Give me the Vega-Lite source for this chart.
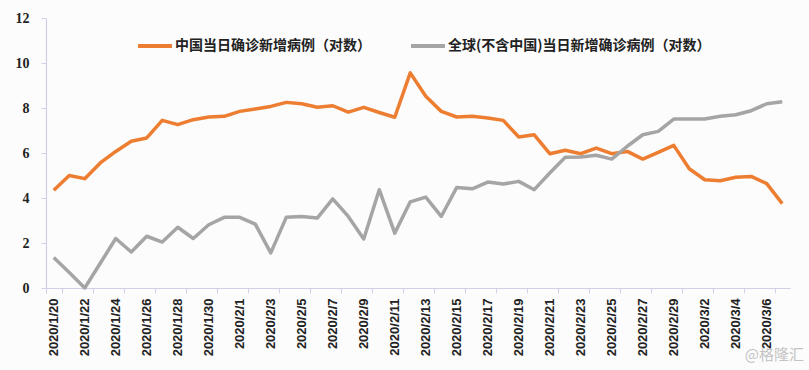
{
  "$schema": "https://vega.github.io/schema/vega-lite/v6.json",
  "width": 744,
  "height": 270,
  "autosize": {"type": "none"},
  "padding": {"left": 46, "top": 18, "right": 19, "bottom": 82},
  "background": "#fcfcfc",
  "config": {"view": {"stroke": null}},
  "title": {"text": "@格隆汇", "orient": "bottom", "anchor": "end", "color": "#c4c4c4", "fontSize": 15, "fontWeight": "normal", "font": "Noto Sans CJK SC", "offset": -8, "dx": 14},
  "datasets": {
    "d": [
      {"date":"2020/1/20","s":"中国当日确诊新增病例（对数）","v":4.34},
      {"date":"2020/1/21","s":"中国当日确诊新增病例（对数）","v":5.0},
      {"date":"2020/1/22","s":"中国当日确诊新增病例（对数）","v":4.86},
      {"date":"2020/1/23","s":"中国当日确诊新增病例（对数）","v":5.56},
      {"date":"2020/1/24","s":"中国当日确诊新增病例（对数）","v":6.07},
      {"date":"2020/1/25","s":"中国当日确诊新增病例（对数）","v":6.52},
      {"date":"2020/1/26","s":"中国当日确诊新增病例（对数）","v":6.67},
      {"date":"2020/1/27","s":"中国当日确诊新增病例（对数）","v":7.45},
      {"date":"2020/1/28","s":"中国当日确诊新增病例（对数）","v":7.26},
      {"date":"2020/1/29","s":"中国当日确诊新增病例（对数）","v":7.48},
      {"date":"2020/1/30","s":"中国当日确诊新增病例（对数）","v":7.6},
      {"date":"2020/1/31","s":"中国当日确诊新增病例（对数）","v":7.63},
      {"date":"2020/2/1","s":"中国当日确诊新增病例（对数）","v":7.85},
      {"date":"2020/2/2","s":"中国当日确诊新增病例（对数）","v":7.96},
      {"date":"2020/2/3","s":"中国当日确诊新增病例（对数）","v":8.07},
      {"date":"2020/2/4","s":"中国当日确诊新增病例（对数）","v":8.25},
      {"date":"2020/2/5","s":"中国当日确诊新增病例（对数）","v":8.19},
      {"date":"2020/2/6","s":"中国当日确诊新增病例（对数）","v":8.03},
      {"date":"2020/2/7","s":"中国当日确诊新增病例（对数）","v":8.1},
      {"date":"2020/2/8","s":"中国当日确诊新增病例（对数）","v":7.82},
      {"date":"2020/2/9","s":"中国当日确诊新增病例（对数）","v":8.03},
      {"date":"2020/2/10","s":"中国当日确诊新增病例（对数）","v":7.8},
      {"date":"2020/2/11","s":"中国当日确诊新增病例（对数）","v":7.59},
      {"date":"2020/2/12","s":"中国当日确诊新增病例（对数）","v":9.56},
      {"date":"2020/2/13","s":"中国当日确诊新增病例（对数）","v":8.52},
      {"date":"2020/2/14","s":"中国当日确诊新增病例（对数）","v":7.85},
      {"date":"2020/2/15","s":"中国当日确诊新增病例（对数）","v":7.6},
      {"date":"2020/2/16","s":"中国当日确诊新增病例（对数）","v":7.63},
      {"date":"2020/2/17","s":"中国当日确诊新增病例（对数）","v":7.56},
      {"date":"2020/2/18","s":"中国当日确诊新增病例（对数）","v":7.45},
      {"date":"2020/2/19","s":"中国当日确诊新增病例（对数）","v":6.71},
      {"date":"2020/2/20","s":"中国当日确诊新增病例（对数）","v":6.81},
      {"date":"2020/2/21","s":"中国当日确诊新增病例（对数）","v":5.97},
      {"date":"2020/2/22","s":"中国当日确诊新增病例（对数）","v":6.12},
      {"date":"2020/2/23","s":"中国当日确诊新增病例（对数）","v":5.97},
      {"date":"2020/2/24","s":"中国当日确诊新增病例（对数）","v":6.22},
      {"date":"2020/2/25","s":"中国当日确诊新增病例（对数）","v":5.97},
      {"date":"2020/2/26","s":"中国当日确诊新增病例（对数）","v":6.07},
      {"date":"2020/2/27","s":"中国当日确诊新增病例（对数）","v":5.73},
      {"date":"2020/2/28","s":"中国当日确诊新增病例（对数）","v":6.03},
      {"date":"2020/2/29","s":"中国当日确诊新增病例（对数）","v":6.34},
      {"date":"2020/3/1","s":"中国当日确诊新增病例（对数）","v":5.3},
      {"date":"2020/3/2","s":"中国当日确诊新增病例（对数）","v":4.81},
      {"date":"2020/3/3","s":"中国当日确诊新增病例（对数）","v":4.77},
      {"date":"2020/3/4","s":"中国当日确诊新增病例（对数）","v":4.92},
      {"date":"2020/3/5","s":"中国当日确诊新增病例（对数）","v":4.96},
      {"date":"2020/3/6","s":"中国当日确诊新增病例（对数）","v":4.64},
      {"date":"2020/3/7","s":"中国当日确诊新增病例（对数）","v":3.75},
      {"date":"2020/1/20","s":"全球(不含中国)当日新增确诊病例（对数）","v":1.36},
      {"date":"2020/1/21","s":"全球(不含中国)当日新增确诊病例（对数）","v":0.69},
      {"date":"2020/1/22","s":"全球(不含中国)当日新增确诊病例（对数）","v":0},
      {"date":"2020/1/23","s":"全球(不含中国)当日新增确诊病例（对数）","v":1.1},
      {"date":"2020/1/24","s":"全球(不含中国)当日新增确诊病例（对数）","v":2.2},
      {"date":"2020/1/25","s":"全球(不含中国)当日新增确诊病例（对数）","v":1.6},
      {"date":"2020/1/26","s":"全球(不含中国)当日新增确诊病例（对数）","v":2.3},
      {"date":"2020/1/27","s":"全球(不含中国)当日新增确诊病例（对数）","v":2.04},
      {"date":"2020/1/28","s":"全球(不含中国)当日新增确诊病例（对数）","v":2.7},
      {"date":"2020/1/29","s":"全球(不含中国)当日新增确诊病例（对数）","v":2.2},
      {"date":"2020/1/30","s":"全球(不含中国)当日新增确诊病例（对数）","v":2.81},
      {"date":"2020/1/31","s":"全球(不含中国)当日新增确诊病例（对数）","v":3.14},
      {"date":"2020/2/1","s":"全球(不含中国)当日新增确诊病例（对数）","v":3.14},
      {"date":"2020/2/2","s":"全球(不含中国)当日新增确诊病例（对数）","v":2.84},
      {"date":"2020/2/3","s":"全球(不含中国)当日新增确诊病例（对数）","v":1.56},
      {"date":"2020/2/4","s":"全球(不含中国)当日新增确诊病例（对数）","v":3.14},
      {"date":"2020/2/5","s":"全球(不含中国)当日新增确诊病例（对数）","v":3.18},
      {"date":"2020/2/6","s":"全球(不含中国)当日新增确诊病例（对数）","v":3.11},
      {"date":"2020/2/7","s":"全球(不含中国)当日新增确诊病例（对数）","v":3.96},
      {"date":"2020/2/8","s":"全球(不含中国)当日新增确诊病例（对数）","v":3.18},
      {"date":"2020/2/9","s":"全球(不含中国)当日新增确诊病例（对数）","v":2.18},
      {"date":"2020/2/10","s":"全球(不含中国)当日新增确诊病例（对数）","v":4.37},
      {"date":"2020/2/11","s":"全球(不含中国)当日新增确诊病例（对数）","v":2.44},
      {"date":"2020/2/12","s":"全球(不含中国)当日新增确诊病例（对数）","v":3.83},
      {"date":"2020/2/13","s":"全球(不含中国)当日新增确诊病例（对数）","v":4.04},
      {"date":"2020/2/14","s":"全球(不含中国)当日新增确诊病例（对数）","v":3.18},
      {"date":"2020/2/15","s":"全球(不含中国)当日新增确诊病例（对数）","v":4.47},
      {"date":"2020/2/16","s":"全球(不含中国)当日新增确诊病例（对数）","v":4.41},
      {"date":"2020/2/17","s":"全球(不含中国)当日新增确诊病例（对数）","v":4.71},
      {"date":"2020/2/18","s":"全球(不含中国)当日新增确诊病例（对数）","v":4.62},
      {"date":"2020/2/19","s":"全球(不含中国)当日新增确诊病例（对数）","v":4.74},
      {"date":"2020/2/20","s":"全球(不含中国)当日新增确诊病例（对数）","v":4.37},
      {"date":"2020/2/21","s":"全球(不含中国)当日新增确诊病例（对数）","v":5.11},
      {"date":"2020/2/22","s":"全球(不含中国)当日新增确诊病例（对数）","v":5.81},
      {"date":"2020/2/23","s":"全球(不含中国)当日新增确诊病例（对数）","v":5.82},
      {"date":"2020/2/24","s":"全球(不含中国)当日新增确诊病例（对数）","v":5.9},
      {"date":"2020/2/25","s":"全球(不含中国)当日新增确诊病例（对数）","v":5.73},
      {"date":"2020/2/26","s":"全球(不含中国)当日新增确诊病例（对数）","v":6.3},
      {"date":"2020/2/27","s":"全球(不含中国)当日新增确诊病例（对数）","v":6.81},
      {"date":"2020/2/28","s":"全球(不含中国)当日新增确诊病例（对数）","v":6.96},
      {"date":"2020/2/29","s":"全球(不含中国)当日新增确诊病例（对数）","v":7.51},
      {"date":"2020/3/1","s":"全球(不含中国)当日新增确诊病例（对数）","v":7.51},
      {"date":"2020/3/2","s":"全球(不含中国)当日新增确诊病例（对数）","v":7.51},
      {"date":"2020/3/3","s":"全球(不含中国)当日新增确诊病例（对数）","v":7.63},
      {"date":"2020/3/4","s":"全球(不含中国)当日新增确诊病例（对数）","v":7.7},
      {"date":"2020/3/5","s":"全球(不含中国)当日新增确诊病例（对数）","v":7.88},
      {"date":"2020/3/6","s":"全球(不含中国)当日新增确诊病例（对数）","v":8.19},
      {"date":"2020/3/7","s":"全球(不含中国)当日新增确诊病例（对数）","v":8.28}
    ]
  },
  "data": {"name": "d"},
  "mark": {"type": "line", "strokeWidth": 3.5, "strokeJoin": "round"},
  "encoding": {
    "x": {
      "field": "date", "type": "ordinal", "sort": null,
      "scale": {"type": "band", "paddingInner": 0, "paddingOuter": 0},
      "axis": {
        "title": null,
        "values": ["2020/1/20","2020/1/22","2020/1/24","2020/1/26","2020/1/28","2020/1/30","2020/2/1","2020/2/3","2020/2/5","2020/2/7","2020/2/9","2020/2/11","2020/2/13","2020/2/15","2020/2/17","2020/2/19","2020/2/21","2020/2/23","2020/2/25","2020/2/27","2020/2/29","2020/3/2","2020/3/4","2020/3/6"],
        "labelAngle": -90,
        "labelFont": "Liberation Sans", "labelFontWeight": "bold", "labelFontSize": 13, "labelColor": "#222222",
        "labelPadding": 5,
        "tickBand": "extent", "tickSize": 5, "tickColor": "#d0d0e6",
        "domainColor": "#d0d0e6", "domainWidth": 1.2,
        "grid": false
      }
    },
    "y": {
      "field": "v", "type": "quantitative",
      "scale": {"domain": [0, 12], "nice": false},
      "axis": {
        "title": null, "values": [0,2,4,6,8,10,12],
        "labelFont": "Liberation Serif", "labelFontWeight": "bold", "labelFontSize": 14, "labelColor": "#222222",
        "labelPadding": 12, "tickSize": 5, "tickColor": "#d0d0e6",
        "domainColor": "#d0d0e6", "domainWidth": 1.2, "grid": false
      }
    },
    "color": {
      "field": "s", "type": "nominal",
      "scale": {"domain": ["中国当日确诊新增病例（对数）","全球(不含中国)当日新增确诊病例（对数）"], "range": ["#ed7d31","#a5a5a5"]},
      "legend": {
        "title": null, "orient": "none", "direction": "horizontal",
        "legendX": 90, "legendY": 9,
        "symbolType": "stroke", "symbolSize": 1150, "symbolStrokeWidth": 4,
        "labelFont": "Noto Sans CJK SC", "labelFontWeight": "bold", "labelFontSize": 14, "labelColor": "#222222",
        "labelOffset": 1, "columnPadding": 32, "labelLimit": 400
      }
    }
  }
}
